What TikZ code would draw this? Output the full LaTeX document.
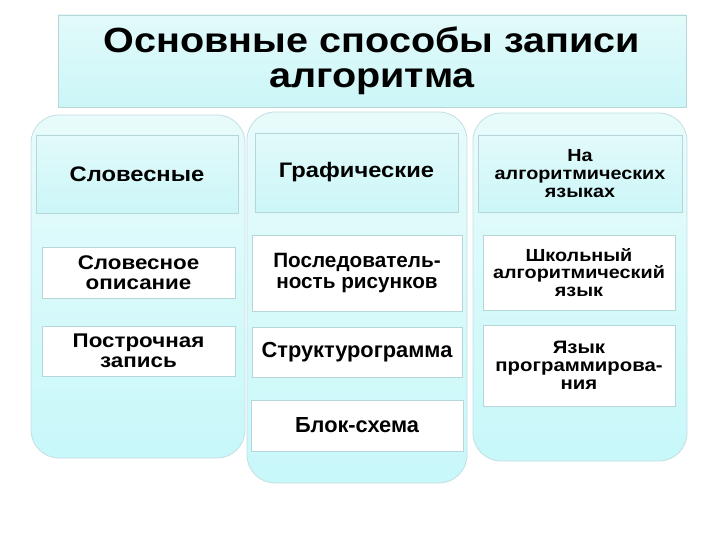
\documentclass[tikz,border=0pt]{standalone}
\usepackage{fontspec}
\setmainfont[FakeStretch=1.13]{Liberation Sans}
\newfontfamily\plainsans{Liberation Sans}
\usetikzlibrary{positioning}
\definecolor{panelTop}{RGB}{232,251,251}
\definecolor{panelBot}{RGB}{200,248,250}
\definecolor{panelEdge}{RGB}{196,222,226}
\definecolor{headTop}{RGB}{226,250,250}
\definecolor{headBot}{RGB}{204,246,248}
\definecolor{itemEdge}{RGB}{182,214,216}

\begin{document}
\begin{tikzpicture}[
  x=1pt, y=-1pt,
  panel/.style={draw=panelEdge, line width=0.8pt, rounded corners=28pt,
    top color=panelTop, bottom color=panelBot, inner sep=0pt},
  head/.style={draw=itemEdge, line width=0.8pt, top color=headTop,
    bottom color=headBot, inner sep=0pt, align=center},
  item/.style={draw=itemEdge, line width=0.8pt, fill=white, inner sep=0pt,
    align=center},
  fs/.style={font=\bfseries\fontsize{#1}{\dimexpr#1pt+0.3pt\relax}\selectfont},
  pfs/.style={font=\plainsans\bfseries\fontsize{#1}{\dimexpr#1pt\relax}\selectfont},
]
  \useasboundingbox (0,0) rectangle (720,540);
  \node[head, minimum width=628pt, minimum height=92pt,
    font=\bfseries\fontsize{35}{35}\selectfont] (title) at (372,61)
    {Основные способы записи\\алгоритма};

  \node[panel, minimum width=214pt, minimum height=343pt] (words) at (138,286.5) {};
  \node[panel, minimum width=220pt, minimum height=371pt] (graph) at (357,297.5) {};
  \node[panel, minimum width=214pt, minimum height=348pt] (langs) at (580,287) {};

  \node[head, fs=21, minimum width=202pt, minimum height=78pt] (wordsHead) at (137,174)
    {Словесные};
  \node[head, fs=21, minimum width=203pt, minimum height=79pt] (graphHead) at (356.5,172.5)
    {Графические};
  \node[head, fs=17.5, minimum width=204pt, minimum height=77pt] (langsHead) at (580,173.5)
    {На\\алгоритмических\\языках};

  \node[item, fs=19.8, minimum width=193pt, minimum height=51pt] (verbal) at (138.5,272.5)
    {Словесное\\описание};
  \node[item, fs=19.8, minimum width=193pt, minimum height=50pt] (lines) at (138.5,351)
    {Построчная\\запись};

  \node[item, pfs=20.7, minimum width=210pt, minimum height=76pt] (pictures) at (357,273)
    {Последователь-\\ность рисунков};
  \node[item, pfs=21.8, minimum width=210pt, minimum height=50pt] (struct) at (357,352)
    {Структурограмма};
  \node[item, pfs=21.8, minimum width=212pt, minimum height=51pt] (flow) at (357,425.5)
    {Блок-схема};

  \node[item, fs=17.5, minimum width=192pt, minimum height=75pt] (school) at (579,272.5)
    {Школьный\\алгоритмический\\язык};
  \node[item, fs=18, minimum width=192pt, minimum height=81pt] (prog) at (579,365.5)
    {Язык\\программирова-\\ния};
\end{tikzpicture}
\end{document}
